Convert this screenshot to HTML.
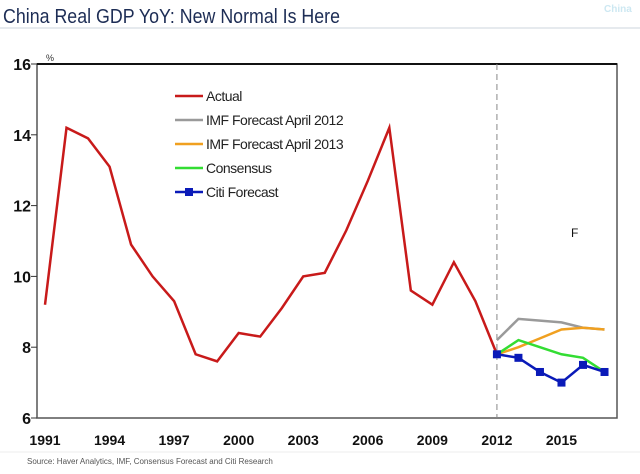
<!DOCTYPE html>
<html><head><meta charset="utf-8"><style>
body{margin:0;background:#fff;width:640px;height:469px;overflow:hidden;font-family:"Liberation Sans",Arial,sans-serif}
</style></head><body>
<svg width="640" height="469" xmlns="http://www.w3.org/2000/svg" font-family="Liberation Sans, Arial, sans-serif">
<text x="3" y="23" font-size="20" fill="#1d2d55" textLength="337" lengthAdjust="spacingAndGlyphs">China Real GDP YoY: New Normal Is Here</text>
<text x="604" y="12" font-size="10" fill="#cde8f2" font-weight="bold">China</text>
<line x1="0" y1="28" x2="640" y2="28" stroke="#dde3e8" stroke-width="1.5"/>
<rect x="37" y="64" width="580" height="354" fill="none" stroke="#555" stroke-width="1.5"/>
<line x1="37" y1="64" x2="617" y2="64" stroke="#111" stroke-width="2"/>
<text x="46" y="61" font-size="9" fill="#333">%</text>
<g id="axes"></g>
<g id="series"></g>
<text x="571" y="237" font-size="12" fill="#111">F</text>
<text x="27" y="464" font-size="8" fill="#555">Source: Haver Analytics, IMF, Consensus Forecast and Citi Research</text>
<line x1="0" y1="452" x2="640" y2="452" stroke="#eee" stroke-width="1"/>
<g id="legend"></g>
</svg>
<script>
const years=[1991,1992,1993,1994,1995,1996,1997,1998,1999,2000,2001,2002,2003,2004,2005,2006,2007,2008,2009,2010,2011,2012];
const actual=[9.2,14.2,13.9,13.1,10.9,10.0,9.3,7.8,7.6,8.4,8.3,9.1,10.0,10.1,11.3,12.7,14.2,9.6,9.2,10.4,9.3,7.8];
const fYears=[2012,2013,2014,2015,2016,2017];
const imf2012=[8.2,8.8,8.75,8.7,8.55,8.5];
const imf2013=[7.8,8.0,8.25,8.5,8.55,8.5];
const consensus=[7.8,8.2,8.0,7.8,7.7,7.3];
const citi=[7.8,7.7,7.3,7.0,7.5,7.3];
const yTicks=[6,8,10,12,14,16];
const xTicks=[1991,1994,1997,2000,2003,2006,2009,2012,2015];
const NS="http://www.w3.org/2000/svg";
const X=y=>45+(y-1991)*21.52;
const Y=v=>418-(v-6)*35.4;
function mk(t,a,p){const e=document.createElementNS(NS,t);for(const k in a)e.setAttribute(k,a[k]);p.appendChild(e);return e;}
const ax=document.getElementById('axes');
yTicks.forEach(v=>{
 const t=mk('text',{x:31,y:Y(v)+6,'font-size':16,'font-weight':'bold','text-anchor':'end',fill:'#111'},ax);t.textContent=v;
 
 
 mk('line',{x1:31,x2:37,y1:Y(v),y2:Y(v),stroke:'#333'},ax);
});
xTicks.forEach(v=>{
 const t=mk('text',{x:X(v),y:445,'font-size':14,'font-weight':'bold','text-anchor':'middle',fill:'#111'},ax);t.textContent=v;
 
 
});
const dl=mk('line',{x1:X(2012),x2:X(2012),y1:64,y2:418,stroke:'#888','stroke-dasharray':'6,4'},ax);


const sg=document.getElementById('series');
function line(xs,vs,color,name,w){
 const p=mk('polyline',{points:xs.map((x,i)=>X(x)+','+Y(vs[i])).join(' '),fill:'none',stroke:color,'stroke-width':w},sg);
 
 
}
line(years,actual,'#c81a1a','actual-line',2.5);
line(fYears,imf2012,'#9a9a9a','imf-2012-line',2.5);
line(fYears,imf2013,'#f0a020','imf-2013-line',2.5);
line(fYears,consensus,'#33dd33','consensus-line',2.5);
line(fYears,citi,'#0a1ab8','citi-line',2.5);
fYears.forEach((y,i)=>{
 const r=mk('rect',{x:X(y)-4,y:Y(citi[i])-4,width:8,height:8,fill:'#0a1ab8'},sg);
 
 
});
const lg=document.getElementById('legend');
const items=[['Actual','#c81a1a'],['IMF Forecast April 2012','#9a9a9a'],['IMF Forecast April 2013','#f0a020'],['Consensus','#33dd33'],['Citi Forecast','#0a1ab8']];
items.forEach((it,i)=>{
 const y=96+i*24;
 const g=mk('g',{},lg);
 
 
 mk('line',{x1:175,x2:203,y1:y,y2:y,stroke:it[1],'stroke-width':2.5},g);
 if(i==4)mk('rect',{x:185,y:y-4,width:8,height:8,fill:it[1]},g);
 const t=mk('text',{x:206,y:y+5,'font-size':14,fill:'#222','letter-spacing':'-0.5'},g);t.textContent=it[0];
});
</script>
</body></html>
